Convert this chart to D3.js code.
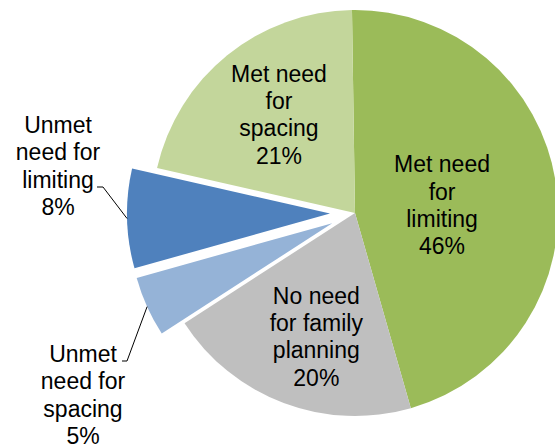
<!DOCTYPE html>
<html>
<head>
<meta charset="utf-8">
<script src="https://cdn.jsdelivr.net/npm/d3@7"></script>
<style>
  html, body { margin: 0; padding: 0; background: #fff; }
  svg { display: block; }
  text { font-family: "Liberation Sans", Arial, sans-serif; fill: #000; }
</style>
</head>
<body>
<div id="chart"></div>
<script>
"use strict";

// data, clockwise from 12 o'clock
const categories = ["Met need for limiting", "No need for family planning", "Unmet need for spacing", "Unmet need for limiting", "Met need for spacing"];
const values = [45.8, 20.3, 4.8, 7.9, 21.2];
const labelLines = [["Met need", "for", "limiting"], ["No need", "for family", "planning"], ["Unmet", "need for", "spacing"], ["Unmet", "need for", "limiting"], ["Met need", "for", "spacing"]];
const colors = ["#9bbb59", "#bfbfbf", "#95b3d7", "#4f81bd", "#c3d69b"];
const exploded = [false, false, true, true, false];

const WIDTH = 555;
const HEIGHT = 446;
const CX = 355;
const CY = 213;
const RADIUS = 203;
const EXPLODE = 25;
const START = -0.85 * Math.PI / 180;
const FONT_SIZE = 23;
const LINE_HEIGHT = 27.3;

// inside label placement: radius from centre and small nudge
const insideLabel = {
    "Met need for limiting": {r: 88, dx: 0, dy: 5},
    "No need for family planning": {r: 130, dx: 7, dy: 2},
    "Met need for spacing": {r: 124, dx: 2, dy: -2}
};
// outside labels (text block centres) for exploded slices
const outsideLabel = {
    "Unmet need for spacing": {x: 83, y: 395, tick: [122, 361, 127]},
    "Unmet need for limiting": {x: 58, y: 166, tick: [97, 187, 103]}
};

const svg = d3.select("#chart").append("svg")
    .attr("width", WIDTH)
    .attr("height", HEIGHT);

const pie = d3.pie()
    .sort(null)
    .startAngle(START)
    .endAngle(START + 2 * Math.PI)
    .value(function (d) { return d.value; });

const data = pie(categories.map(function (c, i) {
    return {name: c, value: values[i], lines: labelLines[i], color: colors[i], exploded: exploded[i]};
}));

const arc = d3.arc().innerRadius(0).outerRadius(RADIUS);

function offsetOf(d) {
    if (!d.data.exploded) return [0, 0];
    const a = (d.startAngle + d.endAngle) / 2;
    return [Math.sin(a) * EXPLODE, -Math.cos(a) * EXPLODE];
}

const g = svg.append("g").attr("transform", "translate(" + CX + "," + CY + ")");

g.selectAll("path.slice")
    .data(data)
    .enter()
    .append("path")
    .attr("class", "slice")
    .attr("d", arc)
    .attr("fill", function (d) { return d.data.color; })
    .attr("transform", function (d) {
        const o = offsetOf(d);
        return "translate(" + o[0] + "," + o[1] + ")";
    });

function addLines(sel, x, y, lines) {
    const t = sel.append("text")
        .attr("text-anchor", "middle")
        .style("font-size", FONT_SIZE + "px");
    lines.forEach(function (line, i) {
        t.append("tspan")
            .attr("x", x)
            .attr("y", y + (i - (lines.length - 1) / 2) * LINE_HEIGHT + FONT_SIZE * 0.35)
            .text(line);
    });
}

const pct = d3.format(".0f");

data.forEach(function (d) {
    const lines = d.data.lines.concat([pct(d.data.value) + "%"]);
    const a = (d.startAngle + d.endAngle) / 2;
    if (insideLabel[d.data.name]) {
        const p = insideLabel[d.data.name];
        addLines(g, Math.sin(a) * p.r + p.dx, -Math.cos(a) * p.r + p.dy, lines);
    } else {
        const p = outsideLabel[d.data.name];
        addLines(svg, p.x, p.y, lines);
        const o = offsetOf(d);
        const ex = CX + o[0] + Math.sin(a) * RADIUS;
        const ey = CY + o[1] - Math.cos(a) * RADIUS;
        svg.append("path")
            .attr("d", "M" + p.tick[0] + "," + p.tick[1] + "L" + p.tick[2] + "," + p.tick[1] + "L" + ex + "," + ey)
            .attr("fill", "none")
            .attr("stroke", "#000")
            .attr("stroke-width", 1);
    }
});
</script>
</body>
</html>
